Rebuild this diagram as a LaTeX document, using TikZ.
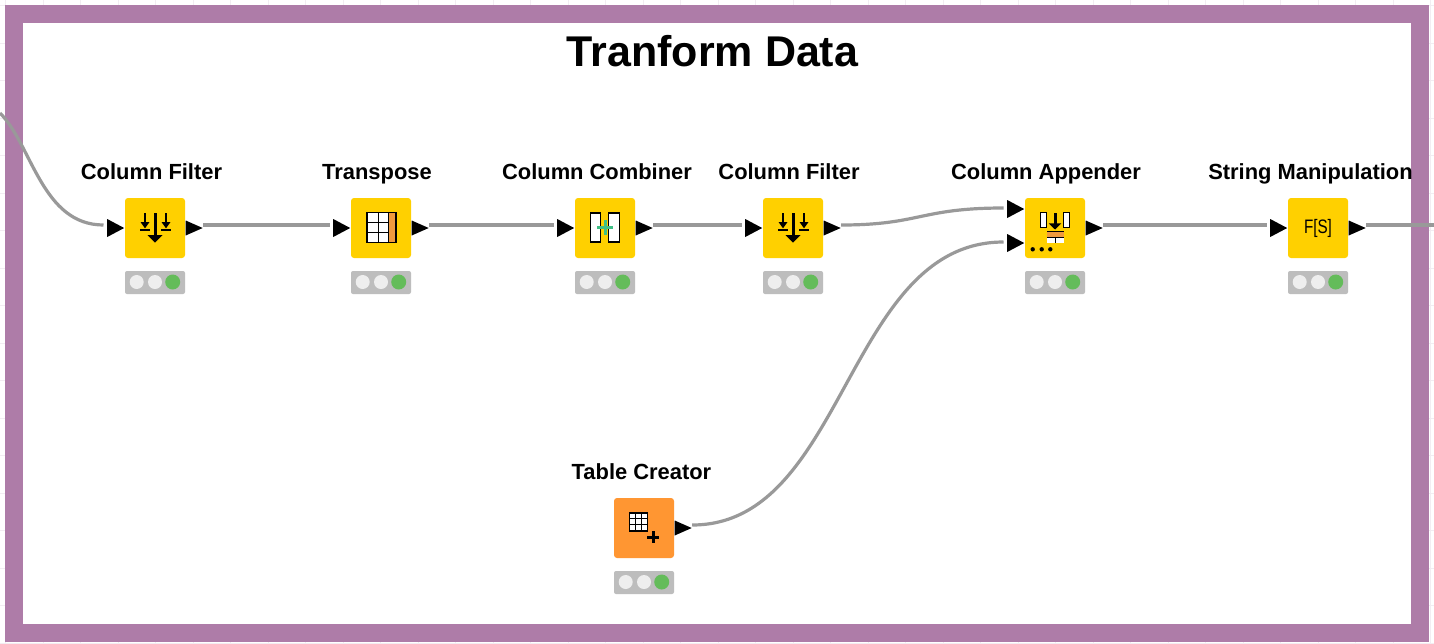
\documentclass[tikz,border=0pt]{standalone}
\usepackage{fontspec}
\setmainfont{Liberation Sans}
\usetikzlibrary{shapes.geometric}
\definecolor{framepurple}{HTML}{AE7CA8}
\definecolor{gridline}{HTML}{F2EDF2}
\definecolor{wiregray}{HTML}{999999}
\definecolor{nodeyellow}{HTML}{FFD000}
\definecolor{nodeorange}{HTML}{FF9632}
\definecolor{iconorange}{HTML}{F09A3E}
\definecolor{statusgray}{HTML}{BDBDBD}
\definecolor{lightoff}{HTML}{EEEEEE}
\definecolor{lighton}{HTML}{64BC5A}
\definecolor{plusgreen}{HTML}{3FBF85}
\tikzset{
    knode/.style = {rectangle, rounded corners = 3pt, minimum size = 60pt, inner sep = 0pt},
    klabel/.style = {font = \fontsize{21.9}{24}\selectfont\bfseries, inner sep = 0pt, text height = 16pt, text depth = 0pt},
    kstatus/.style = {rectangle, rounded corners = 2pt, fill = statusgray, minimum width = 60pt, minimum height = 23pt, inner sep = 0pt},
    klight/.style = {circle, fill = lightoff, minimum size = 14pt, inner sep = 0pt},
    kport/.style = {isosceles triangle, isosceles triangle stretches, shape border rotate = 0, fill = black, anchor = west, minimum width = 18pt, minimum height = 17pt, inner sep = 0pt},
    kportout/.style = {kport, minimum width = 15pt},
    wire/.style = {draw = wiregray, line width = 3.2pt},
    filtericon/.pic = {
        \draw[line width = 3pt] (0, -15) -- (0, 8);
        \fill (-7.5, 7) -- (7.5, 7) -- (0, 14.7) -- cycle;
        \foreach \s in {-10, 11} {
            \draw[line width = 2.2pt] (\s, -15) -- (\s, -4);
            \fill (\s-4.5, -6) -- (\s+4.5, -6) -- (\s, 0.3) -- cycle;
            \draw[line width = 1.5pt] (\s-5, 2) -- (\s+5, 2);
        }
    },
    transposeicon/.pic = {
        \fill[white] (-14.3, -15.7) rectangle (7.3, 14.3);
        \fill[iconorange] (7.3, -15.7) rectangle (15, 14.3);
        \draw[line width = 1.6pt] (-14.3, -15.7) rectangle (15, 14.3);
        \draw[line width = 1.6pt] (-2.7, -15.7) -- (-2.7, 14.3);
        \draw[line width = 1.6pt] (7.3, -15.7) -- (7.3, 14.3);
        \draw[line width = 1.6pt] (-14.3, -5.7) -- (7.3, -5.7);
        \draw[line width = 1.6pt] (-14.3, 4.3) -- (7.3, 4.3);
    },
    combinericon/.pic = {
        \draw[fill = white, line width = 1.5pt] (-14.5, -15) rectangle (-4.5, 14);
        \draw[fill = white, line width = 1.5pt] (3.5, -15) rectangle (14.5, 14);
        \draw[plusgreen, line width = 3pt] (-7.7, -1) -- (7.7, -1);
        \draw[plusgreen, line width = 3pt] (0, -8.5) -- (0, 6.5);
    },
    appendericon/.pic = {
        \draw[fill = white, line width = 1.3pt] (-14.5, -15.7) rectangle (-8.7, -0.7);
        \draw[fill = white, line width = 1.3pt] (8.7, -15.7) rectangle (14.5, -0.7);
        \draw[line width = 3pt] (0, -14.7) -- (0, -3);
        \fill (-6.3, -4.7) -- (6.3, -4.7) -- (0, 1.5) -- cycle;
        \fill[white] (-7.7, 3.7) rectangle (9, 14.7);
        \fill[iconorange] (-7.7, 4.2) rectangle (9, 8.9);
        \draw[line width = 1pt] (-7.7, 3.7) -- (9, 3.7);
        \draw[line width = 1pt] (-7.7, 9.4) -- (9, 9.4);
        \draw[line width = 1pt] (0.5, 9.4) -- (0.5, 14.7);
        \foreach \s in {-22.3, -13.3, -4.7} {
            \fill (\s, 21.3) circle (2.2pt);
        }
    },
    creatoricon/.pic = {
        \fill[white] (-14.7, -15.3) rectangle (3.3, 2.7);
        \foreach \s in {1, 2} {
            \draw[line width = 1.5pt] (-14.7+\s*6, -15.3) -- (-14.7+\s*6, 2.7);
            \draw[line width = 1.5pt] (-14.7, -15.3+\s*6) -- (3.3, -15.3+\s*6);
        }
        \draw[line width = 1.6pt] (-14.7, -15.3) rectangle (3.3, 2.7);
        \draw[line width = 2.7pt] (3.3, 9.3) -- (15.3, 9.3);
        \draw[line width = 2.7pt] (9.3, 3.3) -- (9.3, 15.3);
    }
}

\begin{document}
\begin{tikzpicture}[x = 1pt, y = -1pt]
    \useasboundingbox (0, 0) rectangle (1434, 643);

    % sheet lines outside the frame
    \foreach \gx in {0, ..., 38} {
        \draw[gridline] (5.5+\gx*37.5, 0) -- (5.5+\gx*37.5, 643);
    }
    \foreach \gy in {0, ..., 17} {
        \draw[gridline] (0, 5.5+\gy*37.5) -- (1434, 5.5+\gy*37.5);
    }

    \draw[framepurple, fill = white, line width = 18pt] (14, 14) rectangle (1419.5, 632.5);

    \node (title) at (712.5, 51) {\fontsize{43}{46}\selectfont\bfseries Tranform Data};

    % name, x, y, label centre, body colour
    \foreach \n/\px/\py/\lx/\c/\t in {
        cf0/155/228/151.5/nodeyellow/Column Filter,
        tr/381/228/377/nodeyellow/Transpose,
        cc/605/228/597/nodeyellow/Column Combiner,
        cf1/793/228/789/nodeyellow/Column Filter,
        ca/1055/228/1046/nodeyellow/Column Appender,
        sm/1318/228/1310.5/nodeyellow/String Manipulation,
        tc/644/528/641.5/nodeorange/Table Creator} {
        \node (\n) [knode, fill = \c] at (\px, \py) {};
        \node (\n label) [klabel] at (\lx, \py-57) {\t};
        \node (\n status) [kstatus] at (\px, \py+54.5) {};
        \node (\n l0) [klight] at (\px-18.3, \py+54) {};
        \node (\n l1) [klight] at (\px, \py+54) {};
        \node (\n l2) [klight, fill = lighton, minimum size = 15pt] at (\px+17.7, \py+54) {};
        \node (\n out) [kportout] at (\px+30.5, \py) {};
    }

    \node (cf0in) [kport] at (107, 228) {};
    \node (trin) [kport] at (333, 228) {};
    \node (ccin) [kport] at (557, 228) {};
    \node (cf1in) [kport] at (745, 228) {};
    \node (cain0) [kport] at (1007, 209) {};
    \node (cain1) [kport] at (1007, 243) {};
    \node (smin) [kport] at (1270, 228) {};

    \pic at (cf0) {filtericon};
    \pic at (tr) {transposeicon};
    \pic at (cc) {combinericon};
    \pic at (cf1) {filtericon};
    \pic at (ca) {appendericon};
    \pic at (tc) {creatoricon};
    \node (smicon) [inner sep = 0pt] at (1318, 228) {\fontsize{19.5}{20}\selectfont\scalebox{.78}[1]{F[S]}};

    \coordinate (fromleft) at (0, 113);
    \coordinate (toright) at (1434, 225);

    \draw[wire] (fromleft) .. controls (32, 145) and (42, 225) .. ([xshift = -3.5pt, yshift = 3pt]cf0in.west);
    \draw[wire] ([yshift = 3pt]cf0out.apex) -- ([xshift = -3.5pt, yshift = 3pt]trin.west);
    \draw[wire] ([yshift = 3pt]trout.apex) -- ([xshift = -3.5pt, yshift = 3pt]ccin.west);
    \draw[wire] ([yshift = 3pt]ccout.apex) -- ([xshift = -3.5pt, yshift = 3pt]cf1in.west);
    \draw[wire] ([yshift = 3pt]cf1out.apex) .. controls (920, 225) and (920, 208) .. ([xshift = -3.5pt, yshift = 1pt]cain0.west);
    \draw[wire] ([yshift = 3pt]caout.apex) -- ([xshift = -3.5pt, yshift = 3pt]smin.west);
    \draw[wire] ([yshift = 3pt]smout.apex) -- (toright);
    \draw[wire] ([yshift = 3pt]tcout.apex) .. controls (846, 525) and (846, 242) .. ([xshift = -3.5pt, yshift = 1pt]cain1.west);
\end{tikzpicture}
\end{document}
